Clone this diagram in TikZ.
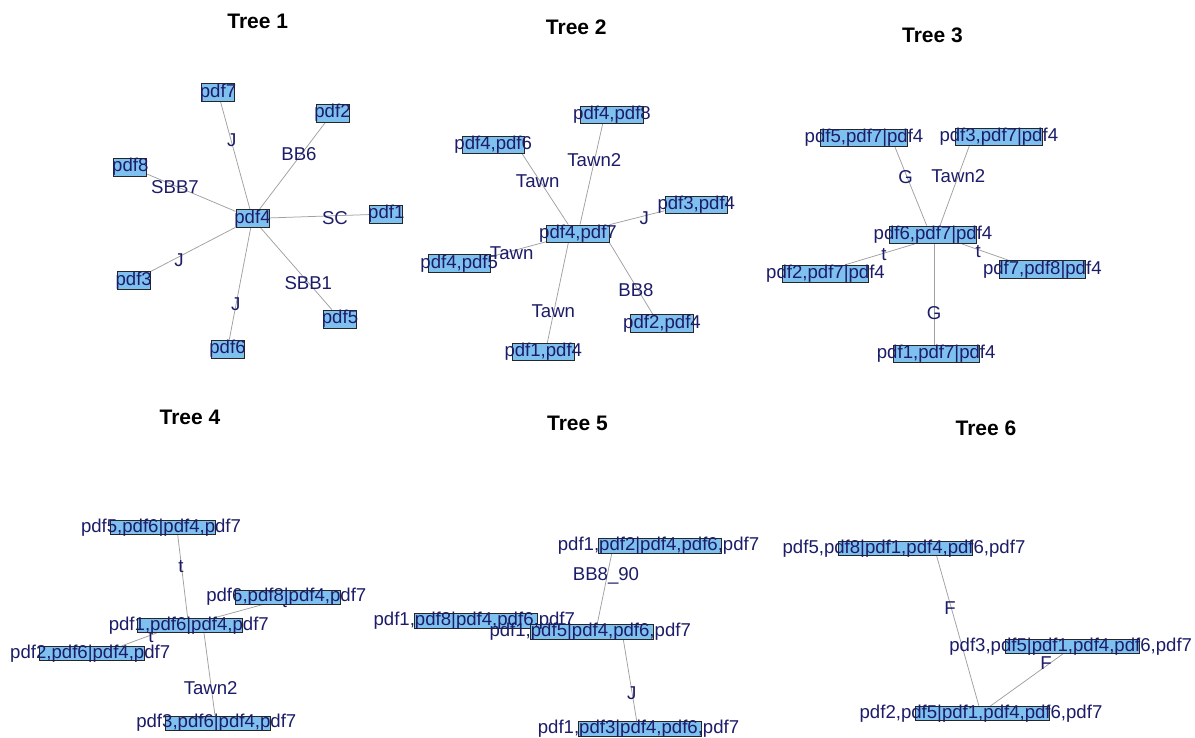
\documentclass[tikz,border=0pt]{standalone}
\usepackage{fontspec}
\setmainfont{Liberation Sans}
\definecolor{lab}{RGB}{28,28,105}
\definecolor{boxfill}{RGB}{126,192,238}
\definecolor{edgec}{RGB}{160,160,160}
\pgfdeclarelayer{back}
\pgfdeclarelayer{bg}
\pgfsetlayers{back,bg,main}
\begin{document}
\begin{tikzpicture}[x=1pt,y=-1pt,
  vbox/.style={draw=black!85, line width=0.8pt, fill=boxfill, inner sep=0pt},
  vbA/.style={vbox, minimum width=33pt, minimum height=18pt},
  vbB/.style={vbox, minimum width=62.5pt, minimum height=17.5pt},
  vbC/.style={vbox, minimum width=86.5pt, minimum height=17.5pt},
  vbD/.style={vbox, minimum width=105pt, minimum height=14pt},
  vbE/.style={vbox, minimum width=123pt, minimum height=15pt},
  vbF/.style={vbox, minimum width=134.5pt, minimum height=14pt},
  vtext/.style={text=lab, inner sep=0pt, font=\fontsize{18.6}{18.6}\selectfont},
  elab/.style={text=lab, inner sep=0pt, font=\fontsize{18.6}{18.6}\selectfont},
  edge/.style={draw=edgec, line width=0.75pt},
  ttl/.style={inner sep=0pt, font=\fontsize{21}{21}\selectfont\bfseries}]
\useasboundingbox (0,0) rectangle (1195,738);
\begin{pgfonlayer}{back}
\fill[white] (0,0) rectangle (1195,738);
\end{pgfonlayer}

% ---------- titles ----------
\node[ttl] (T1) at (257.7,21) {Tree 1};
\node[ttl] (T2) at (576.3,27) {Tree 2};
\node[ttl] (T3) at (932.5,35) {Tree 3};
\node[ttl] (T4) at (190,417) {Tree 4};
\node[ttl] (T5) at (577.5,423) {Tree 5};
\node[ttl] (T6) at (986,428) {Tree 6};

% ---------- Tree 1 boxes ----------
\node[vbA] (a7) at (218,92.5) {};
\node[vbA] (a2) at (332.5,113) {};
\node[vbA] (a8) at (130.3,167) {};
\node[vbA] (a4) at (252.5,218.5) {};
\node[vbA] (a1) at (386.3,214) {};
\node[vbA] (a3) at (133.7,280.3) {};
\node[vbA] (a5) at (340,319) {};
\node[vbA] (a6) at (227.5,349) {};
\node[vtext] (a7t) at (a7) {pdf7};
\node[vtext] (a2t) at (a2) {pdf2};
\node[vtext] (a8t) at (a8) {pdf8};
\node[vtext] (a4t) at (a4) {pdf4};
\node[vtext] (a1t) at (a1) {pdf1};
\node[vtext] (a3t) at (a3) {pdf3};
\node[vtext] (a5t) at (a5) {pdf5};
\node[vtext] (a6t) at (a6) {pdf6};

% ---------- Tree 2 boxes ----------
\node[vbB] (b8) at (612,114.7) {};
\node[vbB] (b6) at (493.2,144.7) {};
\node[vbB] (b3) at (696.3,205) {};
\node[vbB] (b7) at (578,233.8) {};
\node[vbB] (b5) at (459.2,263.3) {};
\node[vbB] (b2) at (662,323.3) {};
\node[vbB] (b1) at (543.3,352) {};
\node[vtext] (b8t) at (b8) {pdf4,pdf8};
\node[vtext] (b6t) at (b6) {pdf4,pdf6};
\node[vtext] (b3t) at (b3) {pdf3,pdf4};
\node[vtext] (b7t) at (b7) {pdf4,pdf7};
\node[vtext] (b5t) at (b5) {pdf4,pdf5};
\node[vtext] (b2t) at (b2) {pdf2,pdf4};
\node[vtext] (b1t) at (b1) {pdf1,pdf4};

% ---------- Tree 3 boxes ----------
\node[vbC] (c5) at (864,138) {};
\node[vbC] (c3) at (998.8,136.7) {};
\node[vbC] (c6) at (933,234.7) {};
\node[vbC] (c2) at (825.5,274) {};
\node[vbC] (c78) at (1042.3,269.3) {};
\node[vbC] (c1) at (936.2,353.7) {};
\node[vtext] (c5t) at (c5) {pdf5,pdf7|pdf4};
\node[vtext] (c3t) at (c3) {pdf3,pdf7|pdf4};
\node[vtext] (c6t) at (c6) {pdf6,pdf7|pdf4};
\node[vtext] (c2t) at (c2) {pdf2,pdf7|pdf4};
\node[vtext] (c78t) at (c78) {pdf7,pdf8|pdf4};
\node[vtext] (c1t) at (c1) {pdf1,pdf7|pdf4};

% ---------- Tree 4 boxes ----------
\node[vbD] (d5) at (162.5,527.3) {};
\node[vbD] (d6) at (287.8,597) {};
\node[vbD] (d1) at (190.3,625.5) {};
\node[vbD] (d2) at (91.7,653.3) {};
\node[vbD] (d3) at (217.8,723) {};
\node[vtext] (d5t) at ([xshift=-1.5pt]d5) {pdf5,pdf6|pdf4,pdf7};
\node[vtext] (d6t) at ([xshift=-1.5pt]d6) {pdf6,pdf8|pdf4,pdf7};
\node[vtext] (d1t) at ([xshift=-1.5pt]d1) {pdf1,pdf6|pdf4,pdf7};
\node[vtext] (d2t) at ([xshift=-1.5pt]d2) {pdf2,pdf6|pdf4,pdf7};
\node[vtext] (d3t) at ([xshift=-1.5pt]d3) {pdf3,pdf6|pdf4,pdf7};

% ---------- Tree 5 boxes ----------
\node[vbE] (e2) at (660,545.8) {};
\node[vbE] (e8) at (475.8,620.8) {};
\node[vbE] (e5) at (591.7,631.5) {};
\node[vbE] (e3) at (640,728.8) {};
\node[vtext] (e2t) at ([xshift=-1.5pt]e2) {pdf1,pdf2|pdf4,pdf6,pdf7};
\node[vtext] (e8t) at ([xshift=-1.5pt]e8) {pdf1,pdf8|pdf4,pdf6,pdf7};
\node[vtext] (e5t) at ([xshift=-1.5pt]e5) {pdf1,pdf5|pdf4,pdf6,pdf7};
\node[vtext] (e3t) at ([xshift=-1.5pt]e3) {pdf1,pdf3|pdf4,pdf6,pdf7};

% ---------- Tree 6 boxes ----------
\node[vbF] (f8) at (905.5,548.7) {};
\node[vbF] (f3) at (1072.2,646.3) {};
\node[vbF] (f2) at (982.5,713.7) {};
\node[vtext] (f8t) at ([xshift=-1.5pt]f8) {pdf5,pdf8|pdf1,pdf4,pdf6,pdf7};
\node[vtext] (f3t) at ([xshift=-1.5pt]f3) {pdf3,pdf5|pdf1,pdf4,pdf6,pdf7};
\node[vtext] (f2t) at ([xshift=-1.5pt]f2) {pdf2,pdf5|pdf1,pdf4,pdf6,pdf7};

\begin{pgfonlayer}{bg}
% ---------- Tree 1 edges ----------
\draw[edge] (a7) -- (a4);
\draw[edge] (a2) -- (a4);
\draw[edge] (a8) -- (a4);
\draw[edge] (a1) -- (a4);
\draw[edge] (a3) -- (a4);
\draw[edge] (a5) -- (a4);
\draw[edge] (a6) -- (a4);
\node[elab] (l1a) at (231.7,140) {J};
\node[elab] (l1b) at (299,154) {BB6};
\node[elab] (l1c) at (175,187.3) {SBB7};
\node[elab] (l1d) at (335,218.3) {SC};
\node[elab] (l1e) at (179,260) {J};
\node[elab] (l1f) at (308.3,282.7) {SBB1};
\node[elab] (l1g) at (235.7,304) {J};

% ---------- Tree 2 edges ----------
\draw[edge] ([xshift=-9.3pt]b8.south) -- ([xshift=2pt]b7.north);
\draw[edge] ([xshift=29pt]b6.south) -- ([xshift=-9.7pt]b7.north);
\draw[edge] ([yshift=-5.7pt]b3.west) -- (b7.north east);
\draw[edge] ([yshift=6.6pt]b5.east) -- ([yshift=-7.9pt]b7.west);
\draw[edge] (b7.south east) -- ([xshift=-9.3pt]b2.north);
\draw[edge] ([xshift=-9.7pt]b7.south) -- ([xshift=4pt]b1.north);
\node[elab] (l2a) at (594.3,160) {Tawn2};
\node[elab] (l2b) at (537.7,180.7) {Tawn};
\node[elab] (l2c) at (644.3,218.3) {J};
\node[elab] (l2d) at (511.7,252.7) {Tawn};
\node[elab] (l2e) at (636,290) {BB8};
\node[elab] (l2f) at (553.3,310.7) {Tawn};

% ---------- Tree 3 edges ----------
\draw[edge] ([xshift=31pt]c5.south) -- ([xshift=-6.3pt]c6.north);
\draw[edge] ([xshift=-29.5pt]c3.south) -- ([xshift=7pt]c6.north);
\draw[edge] ([xshift=19.5pt]c2.north) -- ([xshift=-18pt]c6.south);
\draw[edge] ([xshift=28.7pt]c6.south) -- ([xshift=-34pt]c78.north);
\draw[edge] ([xshift=1pt]c6.south) -- ([xshift=-2.2pt]c1.north);
\node[elab] (l3a) at (905.7,177.3) {G};
\node[elab] (l3b) at (958.3,176) {Tawn2};
\node[elab] (l3c) at (884,254.3) {t};
\node[elab] (l3d) at (978.3,251.7) {t};
\node[elab] (l3e) at (934,313.3) {G};

% ---------- Tree 4 edges ----------
\draw[edge] ([xshift=15.2pt]d5.south) -- ([xshift=-2.6pt]d1.north);
\draw[edge] ([xshift=-24.5pt]d6.south) -- ([xshift=23pt]d1.north);
\draw[edge] ([xshift=30pt]d2.north) -- ([xshift=-33.6pt]d1.south);
\draw[edge] ([xshift=13.7pt]d1.south) -- ([xshift=-2.8pt]d3.north);
\node[elab] (l4a) at (181,566.7) {t};
\node[elab] (l4b) at (284.5,602) {t};
\node[elab] (l4c) at (151,636.7) {t};
\node[elab] (l4d) at (210.7,688.3) {Tawn2};

% ---------- Tree 5 edges ----------
\draw[edge] ([xshift=-48.3pt]e2.south) -- ([xshift=5.6pt]e5.north);
\draw[edge] ([xshift=31.6pt]e5.south) -- ([xshift=-3.3pt]e3.north);
\node[elab] (l5a) at (606,576) {BB8\_90};
\node[elab] (l5b) at (631.7,692.7) {J};

% ---------- Tree 6 edges ----------
\draw[edge] ([xshift=31.2pt]f8.south) -- ([xshift=-3.5pt]f2.north);
\draw[edge] ([xshift=-9pt]f3.south) -- ([xshift=7.5pt]f2.north);
\node[elab] (l6a) at (950,608.3) {F};
\node[elab] (l6b) at (1046,663.3) {F};
\end{pgfonlayer}
\end{tikzpicture}
\end{document}
